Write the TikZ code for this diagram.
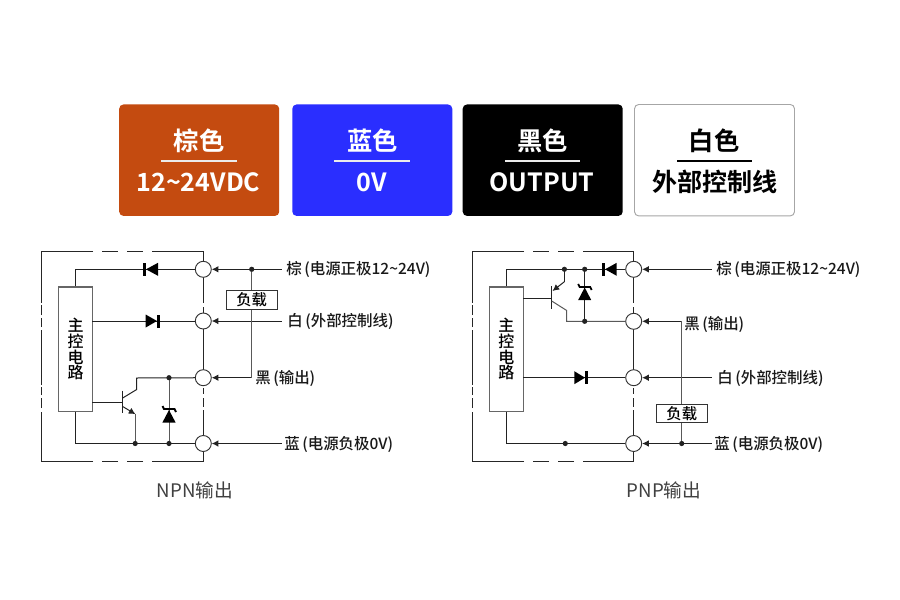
\documentclass[tikz,border=0pt]{standalone}
\usepackage{fontspec}
\setmainfont{Noto Sans CJK SC}[BoldFont={Noto Sans CJK SC Medium}]
\newfontfamily\heavyfont{Noto Sans CJK SC Bold}
\usetikzlibrary{arrows.meta}
\newcommand{\fs}[1]{\fontsize{#1}{#1}\selectfont}
\definecolor{wire}{HTML}{222222}
\tikzset{
  x=0.75pt,y=-0.75pt,
  wireline/.style={draw=wire,line width=0.75pt},
  graywire/.style={draw=black!65,line width=0.75pt},
  framel/.style={draw=black!85,line width=0.7pt},
  term/.style={circle,draw=black!80,fill=white,line width=0.7pt,minimum size=12pt,inner sep=0pt},
  ctl/.style={draw=black!60,fill=white,line width=0.85pt,minimum width=25.5pt,minimum height=93.3pt,inner sep=0pt,align=center,font=\fontsize{12}{11.8}\selectfont\bfseries},
  loadbox/.style={draw=black!80,fill=white,line width=0.7pt,minimum width=38.6pt,minimum height=13.8pt,inner sep=0pt,font=\fs{11.5}\bfseries},
  lab/.style={anchor=west,inner sep=0pt,text=black!90,font=\fs{11.6}\bfseries},
  captext/.style={inner sep=0pt,text=black!75,font=\fs{14}},
  arr/.style={wireline,-{Latex[length=5pt,width=5pt]}},
  dot/.style={circle,fill=wire,inner sep=0pt,minimum size=3.9pt},
  card/.style={rounded corners=3.2pt,minimum width=120pt,minimum height=83.6pt,inner sep=0pt},
  cardhead/.style={inner sep=0pt,font=\fs{19}\heavyfont},
  cardbody/.style={inner sep=0pt,font=\fs{18.8}\heavyfont},
  zenerbar/.style={draw=black,line width=1.4pt},
}
\begin{document}
\begin{tikzpicture}
\useasboundingbox (0,0) rectangle (900,600);
\fill[white] (0,0) rectangle (900,600);

% ---- cards
\node[card,fill={rgb,255:red,196;green,75;blue,16}] (c1) at (199.2,160.2) {};
\node[card,fill={rgb,255:red,42;green,46;blue,255}] (c2) at (372.3,160.2) {};
\node[card,fill=black] (c3) at (542.7,160.2) {};
\node[card,fill=white,draw=black!35,line width=0.7pt] (c4) at (714.5,160.2) {};
\node[cardhead,text=white] (h1) at (199,141) {棕色};
\node[cardhead,text=white] (h2) at (372.5,141) {蓝色};
\node[cardhead,text=white] (h3) at (542.5,141) {黑色};
\node[cardhead,text=black] (h4) at (714,141) {白色};
\draw[white!92!black,line width=1.3pt] (161,161) -- (237,161);
\draw[white!92!black,line width=1.3pt] (334,161) -- (410,161);
\draw[white!92!black,line width=1.3pt] (505,161) -- (580,161);
\draw[black,line width=1.3pt] (677,161) -- (752,161);
\node[cardbody,text=white] (b1) at (198.5,182) {12\textasciitilde24VDC};
\node[cardbody,text=white] (b2) at (372,182) {0V};
\node[cardbody,text=white] (b3) at (542,182) {OUTPUT};
\node[cardbody,text=black] (b4) at (715,182) {外部控制线};

% ---- NPN frame
\draw[framel] (93,251.7) -- (41.7,251.7) -- (41.7,303);
\draw[framel] (102,251.7) -- (118,251.7);
\draw[framel] (127,251.7) -- (143,251.7);
\draw[framel] (152,251.7) -- (203.3,251.7) -- (203.3,303);
\draw[framel] (203.3,307) -- (203.3,370);
\draw[framel] (203.3,388) -- (203.3,394);
\draw[framel] (203.3,398) -- (203.3,407);
\draw[framel] (203.3,410) -- (203.3,461.7) -- (152,461.7);
\draw[framel] (143,461.7) -- (127,461.7);
\draw[framel] (118,461.7) -- (102,461.7);
\draw[framel] (93,461.7) -- (41.7,461.7) -- (41.7,412);
\draw[framel] (41.7,408) -- (41.7,398);
\draw[framel] (41.7,395) -- (41.7,387);
\draw[framel] (41.7,385) -- (41.7,330);
\draw[framel] (41.7,327) -- (41.7,318);
\draw[framel] (41.7,315) -- (41.7,305);

% ---- NPN parts
\node[ctl] (m1) at (75.5,349.2) {主\\控\\电\\路};
\node[term] (a1) at (203.3,269.3) {};
\node[term] (a2) at (203.3,321) {};
\node[term] (a3) at (203.3,377.7) {};
\node[term] (a4) at (203.3,443.5) {};
\coordinate (a1w) at (75.5,269.3);
\coordinate (a4w) at (75.5,443.5);
\draw[wireline] (m1.north) -- (a1w) -- (a1);
\draw[wireline] (m1.south) -- (a4w) -- (a4);
\draw[wireline] (92.3,321) -- (a2);
% diodes
\fill[black] (146,269.3) -- (158,262.8) -- (158,275.8) -- cycle;
\fill[black] (143,262.8) rectangle (146,275.8);
\fill[black] (157,321) -- (145.7,314.5) -- (145.7,327.5) -- cycle;
\fill[black] (157,314.5) rectangle (160,327.5);
% transistor
\draw[wireline] (92.3,402.4) -- (122.7,402.4);
\draw[wireline] (122.7,390.7) -- (122.7,413.3);
\draw[wireline] (122.7,398) -- (136.7,389.5) -- (136.7,378) -- (a3);
\draw[graywire] (135.2,414) -- (135.2,443.5);
\draw[arr] (122.7,406.5) -- (135.5,414.2);
\node[dot] (d1) at (135.2,443.5) {};
% zener
\coordinate (z1) at (169,377.7);
\coordinate (z2) at (169,443.5);
\draw[graywire] (z1) -- (z2);
\node[dot] at (z1) {};
\node[dot] at (z2) {};
\fill[black] (169,410) -- (175.7,422.7) -- (162.3,422.7) -- cycle;
\draw[zenerbar] (162.5,406) -- (164,409) -- (174.5,409) -- (176,412);

% ---- NPN outer wires
\node[lab] (l1) at (286,269) {棕\,(电源正极12\textasciitilde24V)};
\node[lab] (l2) at (287,321) {白\,(外部控制线)};
\node[lab] (l3) at (255,378) {黑\,(输出)};
\node[lab] (l4) at (284,444.5) {蓝\,(电源负极0V)};
\coordinate (e1) at (281.7,269.3);
\coordinate (e2) at (281.7,321);
\coordinate (e3) at (251.7,377.7);
\coordinate (e4) at (281.7,443.5);
\draw[arr] (e1) -- (a1);
\draw[arr] (e2) -- (a2);
\draw[arr] (e3) -- (a3);
\draw[arr] (e4) -- (a4);
\node[dot] (j1) at (251.7,269.3) {};
\draw[graywire] (j1) -- (e3);
\node[loadbox] (bx1) at (251.7,299.8) {负载};

% ---- PNP frame
\draw[framel] (524,251.7) -- (472.3,251.7) -- (472.3,303);
\draw[framel] (533,251.7) -- (549,251.7);
\draw[framel] (558,251.7) -- (574,251.7);
\draw[framel] (583,251.7) -- (633.7,251.7) -- (633.7,303);
\draw[framel] (633.7,307) -- (633.7,370);
\draw[framel] (633.7,388) -- (633.7,394);
\draw[framel] (633.7,398) -- (633.7,407);
\draw[framel] (633.7,410) -- (633.7,461.7) -- (583,461.7);
\draw[framel] (574,461.7) -- (558,461.7);
\draw[framel] (549,461.7) -- (533,461.7);
\draw[framel] (524,461.7) -- (472.3,461.7) -- (472.3,412);
\draw[framel] (472.3,408) -- (472.3,398);
\draw[framel] (472.3,395) -- (472.3,387);
\draw[framel] (472.3,385) -- (472.3,330);
\draw[framel] (472.3,327) -- (472.3,318);
\draw[framel] (472.3,315) -- (472.3,305);

% ---- PNP parts
\node[ctl] (m2) at (506.4,349.2) {主\\控\\电\\路};
\node[term] (p1) at (633.7,269.3) {};
\node[term] (p2) at (633.7,321.3) {};
\node[term] (p3) at (633.7,377.7) {};
\node[term] (p4) at (633.7,443.5) {};
\coordinate (p1w) at (506.4,269.3);
\coordinate (p4w) at (506.4,443.5);
\draw[wireline] (m2.north) -- (p1w) -- (p1);
\draw[wireline] (m2.south) -- (p4w) -- (p4);
\draw[wireline] (523.3,377.7) -- (p3);
\fill[black] (605,269.3) -- (616.7,262.8) -- (616.7,275.8) -- cycle;
\fill[black] (601.7,262.8) rectangle (604.5,275.8);
\fill[black] (585,377.7) -- (574.3,371.2) -- (574.3,384.2) -- cycle;
\fill[black] (585,371.2) rectangle (588,384.2);
\node[dot] (d2) at (565.3,443.5) {};
% transistor
\draw[wireline] (523.3,298.3) -- (551.7,298.3);
\draw[wireline] (551.7,286) -- (551.7,309.3);
\coordinate (q1) at (564.4,269.3);
\draw[wireline] (q1) -- (564.4,281.7);
\draw[arr] (564.4,281.7) -- (552.5,291);
\draw[graywire] (551.7,301) -- (566.7,310.5) -- (566.7,321.3) -- (p2);
\node[dot] at (q1) {};
% zener
\coordinate (y1) at (584.7,269.3);
\coordinate (y2) at (584.7,321.3);
\draw[wireline] (y1) -- (y2);
\node[dot] at (y1) {};
\node[dot] at (y2) {};
\fill[black] (584.7,287.5) -- (591.2,300) -- (578.2,300) -- cycle;
\draw[zenerbar] (578.2,284) -- (579.7,287) -- (590.2,287) -- (591.7,290);

% ---- PNP outer wires
\node[lab] (r1) at (716,269) {棕\,(电源正极12\textasciitilde24V)};
\node[lab] (r2) at (684,324) {黑\,(输出)};
\node[lab] (r3) at (717,378) {白\,(外部控制线)};
\node[lab] (r4) at (714,444.5) {蓝\,(电源负极0V)};
\coordinate (f1) at (711.7,269.3);
\coordinate (f2) at (681.7,321.3);
\coordinate (f3) at (711.7,377.7);
\coordinate (f4) at (711.7,443.5);
\draw[arr] (f1) -- (p1);
\draw[arr] (f2) -- (p2);
\draw[arr] (f3) -- (p3);
\draw[arr] (f4) -- (p4);
\node[dot] (j2) at (681.7,443.5) {};
\draw[graywire] (f2) -- (j2);
\node[loadbox] (bx2) at (681.8,413.5) {负载};

% ---- captions
\node[captext] (t1) at (195,490) {NPN输出};
\node[captext] (t2) at (664,490) {PNP输出};
\end{tikzpicture}
\end{document}
